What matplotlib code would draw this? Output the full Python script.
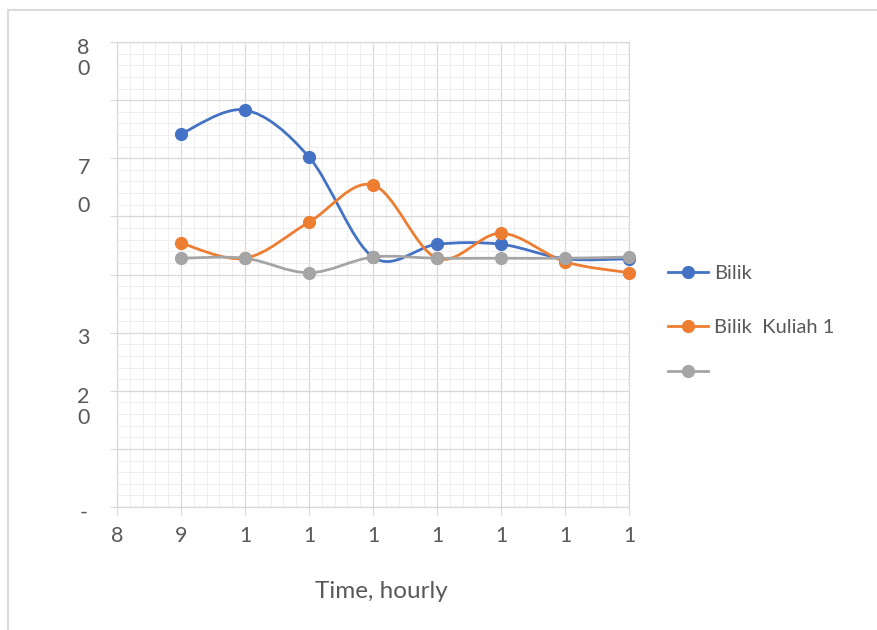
import matplotlib
matplotlib.use('Agg')
import matplotlib.pyplot as plt
from matplotlib.path import Path
from matplotlib.patches import PathPatch
from matplotlib.lines import Line2D
from matplotlib.ticker import MultipleLocator
import matplotlib.transforms as mtransforms

plt.rcParams['font.family'] = ['Lato', 'DejaVu Sans']

# data (y in axis units, 0..8)
hours = [9, 10, 11, 12, 13, 14, 15, 16]
bilik = [6.42, 6.83, 6.02, 4.30, 4.52, 4.52, 4.27, 4.27]
bilik_kuliah = [4.54, 4.28, 4.90, 5.54, 4.28, 4.71, 4.22, 4.03]
third = [4.28, 4.28, 4.03, 4.30, 4.28, 4.28, 4.28, 4.30]
series_names = ['Bilik', 'Bilik  Kuliah 1', '']
series_colors = ['#4472C4', '#ED7D31', '#A5A5A5']

x_ticks = [8, 9, 10, 11, 12, 13, 14, 15, 16]
x_ticklabels = ['8', '9', '1', '1', '1', '1', '1', '1', '1']
y_ticks = [0, 1, 2, 3, 4, 5, 6, 7, 8]
y_ticklabels = ['-', '', '2\n0', '3', '', '', '7\n\n0', '', '8\n0']

grey_txt = '#595959'
grid_c = '#d9d9d9'


def smooth_path(xs, ys):
    # excel-like smoothed line (catmull-rom as cubic bezier)
    n = len(xs)
    verts = [(xs[0], ys[0])]
    codes = [Path.MOVETO]
    for i in range(n - 1):
        a = i - 1 if i > 0 else i
        d = i + 2 if i + 2 < n else i + 1
        c1 = (xs[i] + (xs[i + 1] - xs[a]) / 6, ys[i] + (ys[i + 1] - ys[a]) / 6)
        c2 = (xs[i + 1] - (xs[d] - xs[i]) / 6, ys[i + 1] - (ys[d] - ys[i]) / 6)
        verts += [c1, c2, (xs[i + 1], ys[i + 1])]
        codes += [Path.CURVE4] * 3
    return Path(verts, codes)


fig = plt.figure(figsize=(8.77, 6.3), dpi=100)
ax = fig.add_axes([117 / 877, 1 - 507 / 630, 512 / 877, 465 / 630])

ax.set_xlim(8, 16)
ax.set_ylim(0, 8)
ax.xaxis.set_major_locator(MultipleLocator(1))
ax.xaxis.set_minor_locator(MultipleLocator(0.2))
ax.yaxis.set_major_locator(MultipleLocator(1))
ax.yaxis.set_minor_locator(MultipleLocator(0.2))
ax.grid(which='major', color=grid_c, lw=0.9)
ax.grid(which='minor', color='#eeeeee', lw=0.7)
ax.set_axisbelow(True)
for s in ax.spines.values():
    s.set_color(grid_c)
    s.set_linewidth(0.9)

ax.tick_params(which='minor', length=0)
ax.tick_params(axis='y', which='major', length=5, color=grid_c, pad=19,
               labelsize=15.5, labelcolor=grey_txt)
ax.tick_params(axis='x', which='major', length=6, color=grid_c, pad=8,
               labelsize=15.5, labelcolor=grey_txt)
ax.set_xticks(x_ticks)
ax.set_xticklabels(x_ticklabels)
ax.set_yticks(y_ticks)
ax.set_yticklabels(y_ticklabels)
for lab in ax.get_yticklabels():
    lab.set_horizontalalignment('center')
    lab.set_verticalalignment('top')
    lab.set_linespacing(1.08)
    up = 3 / 72
    if lab.get_text().startswith('7'):
        up = 0
        lab.set_linespacing(0.94)
    lab.set_transform(lab.get_transform() +
                      mtransforms.ScaledTranslation(0, up, fig.dpi_scale_trans))

handles = []
for vals, name, col in zip([bilik, bilik_kuliah, third], series_names, series_colors):
    ax.add_patch(PathPatch(smooth_path(hours, vals), fill=False, edgecolor=col,
                           lw=2.0, zorder=3))
    ax.plot(hours, vals, 'o', color=col, ms=8.5, zorder=4, clip_on=False)
    handles.append(Line2D([], [], color=col, lw=2.0, marker='o', ms=8.5))

leg_kw = dict(loc='upper left', frameon=False, fontsize=14.5,
              labelcolor=grey_txt, handlelength=2.0, handletextpad=0.3,
              labelspacing=1.85, borderpad=0, borderaxespad=0)
fig.legend(handles[:2], series_names[:2],
           bbox_to_anchor=(668 / 877, 1 - 265 / 630), **leg_kw)
fig.legend(handles[2:], series_names[2:],
           bbox_to_anchor=(668 / 877, 1 - 364 / 630), **leg_kw)

fig.text(381 / 877, 1 - 592 / 630, 'Time, hourly', ha='center', va='center',
         fontsize=17.5, color=grey_txt)

# outer chart border (top and left edges visible)
fig.add_artist(Line2D([8 / 877, 1], [1 - 10 / 630] * 2, color='#dcdcdc', lw=1.5))
fig.add_artist(Line2D([8 / 877] * 2, [0, 1 - 10 / 630], color='#dcdcdc', lw=1.5))

fig.savefig('out.png', dpi=100)
